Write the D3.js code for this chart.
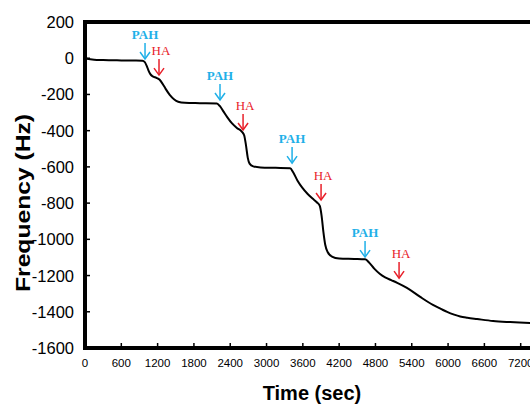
<!DOCTYPE html>
<html>
<head>
<meta charset="utf-8">
<script src="https://cdn.jsdelivr.net/npm/d3@7"></script>
<style>
  html, body { margin: 0; padding: 0; background: #fff; overflow: hidden; }
  svg { display: block; }
</style>
</head>
<body>
<svg id="chart" width="530" height="405"></svg>
<script>
// ---- data ----
const timeSec = [0,150,300,600,800,950,985,1020,1050,1080,1120,1180,1230,1280,1330,1400,1470,1540,1650,1900,2180,2230,2290,2350,2430,2510,2590,2630,2660,2690,2720,2780,2900,3150,3390,3440,3510,3590,3680,3760,3830,3880,3910,3940,3970,4010,4080,4200,4450,4630,4700,4780,4870,4960,5060,5160,5320,5540,5750,5880,5984,6100,6200,6320,6480,6744,7025,7356,7800];
const freqHz = [-2,-8,-10,-12,-13,-14,-20,-42,-68,-88,-100,-108,-118,-140,-168,-202,-226,-240,-246,-248,-250,-265,-295,-325,-360,-385,-405,-425,-480,-550,-582,-597,-603,-605,-607,-630,-675,-715,-750,-775,-795,-815,-870,-960,-1030,-1070,-1095,-1106,-1108,-1110,-1130,-1162,-1190,-1210,-1225,-1240,-1268,-1318,-1362,-1384,-1401,-1416,-1426,-1433,-1440,-1451,-1457,-1462,-1466];

const arrowLabels = ["PAH","HA","PAH","HA","PAH","HA","PAH","HA"];
const arrowTime   = [992,1223,2231,2612,3422,3901,4628,5190];
const arrowTipHz  = [-4,-93,-231,-396,-579,-783,-1098,-1214];

const xTicks = [0,600,1200,1800,2400,3000,3600,4200,4800,5400,6000,6600,7200];
const yTicks = [200,0,-200,-400,-600,-800,-1000,-1200,-1400,-1600];

// ---- layout ----
const svg = d3.select("#chart");
const x = d3.scaleLinear().domain([0, 7800]).range([85, 557]);
const y = d3.scaleLinear().domain([-1600, 200]).range([348, 22]);

const colors = { PAH: "#1fb0e8", HA: "#e8202a" };

// frame
svg.append("line").attr("x1", 85).attr("x2", 600).attr("y1", 22).attr("y2", 22)
  .attr("stroke", "#000").attr("stroke-width", 4);

// x axis ticks (inside)
const gx = svg.append("g");
gx.selectAll("line.tk").data(xTicks).join("line")
  .attr("x1", d => x(d)).attr("x2", d => x(d))
  .attr("y1", 348).attr("y2", 343)
  .attr("stroke", "#000").attr("stroke-width", 1.5);
gx.selectAll("text").data(xTicks).join("text")
  .attr("x", d => x(d)).attr("y", 367)
  .attr("text-anchor", "middle")
  .attr("font-family", "Liberation Sans, Arial, sans-serif")
  .attr("font-size", 11.5)
  .text(d => d);

// y axis ticks (inside)
const gy = svg.append("g");
gy.selectAll("line.tk").data(yTicks).join("line")
  .attr("x1", 85).attr("x2", 90)
  .attr("y1", d => y(d)).attr("y2", d => y(d))
  .attr("stroke", "#000").attr("stroke-width", 1.5);
gy.selectAll("text").data(yTicks).join("text")
  .attr("x", 74).attr("y", d => y(d) + 6)
  .attr("text-anchor", "end")
  .attr("font-family", "Liberation Sans, Arial, sans-serif")
  .attr("font-size", 16.5)
  .text(d => d);

// axis lines
svg.append("line").attr("x1", 85).attr("x2", 600).attr("y1", 348).attr("y2", 348)
  .attr("stroke", "#000").attr("stroke-width", 4);
svg.append("line").attr("x1", 85).attr("x2", 85).attr("y1", 20).attr("y2", 350)
  .attr("stroke", "#000").attr("stroke-width", 4);

// curve
const pts = timeSec.map((t, i) => [t, freqHz[i]]);
svg.append("path")
  .attr("d", d3.line().x(d => x(d[0])).y(d => y(d[1])).curve(d3.curveMonotoneX)(pts))
  .attr("fill", "none").attr("stroke", "#000").attr("stroke-width", 2);

// arrows
const ga = svg.append("g");
arrowLabels.forEach((lab, i) => {
  const ax = x(arrowTime[i]);
  const tip = y(arrowTipHz[i]);
  const top = tip - 16;
  const c = colors[lab];
  ga.append("line").attr("x1", ax).attr("x2", ax).attr("y1", top).attr("y2", tip)
    .attr("stroke", c).attr("stroke-width", 1.5);
  ga.append("path")
    .attr("d", `M${ax - 5},${tip - 7}L${ax},${tip}L${ax + 5},${tip - 7}`)
    .attr("fill", "none").attr("stroke", c).attr("stroke-width", 1.5);
  ga.append("text")
    .attr("x", lab === "HA" ? ax + 2 : ax).attr("y", top - 4)
    .attr("text-anchor", "middle")
    .attr("font-family", "Liberation Serif, Times New Roman, serif")
    .attr("font-weight", lab === "PAH" ? "bold" : "normal")
    .attr("font-size", 13)
    .attr("fill", c)
    .text(lab);
});

// axis titles
svg.append("text")
  .attr("x", 312).attr("y", 400)
  .attr("text-anchor", "middle")
  .attr("font-family", "Liberation Sans, Arial, sans-serif")
  .attr("font-weight", "bold")
  .attr("font-size", 20)
  .text("Time (sec)");

svg.append("text")
  .attr("transform", "translate(30,203) rotate(-90)")
  .attr("text-anchor", "middle")
  .attr("font-family", "Liberation Sans, Arial, sans-serif")
  .attr("font-weight", "bold")
  .attr("font-size", 21)
  .attr("textLength", 178)
  .attr("lengthAdjust", "spacingAndGlyphs")
  .text("Frequency (Hz)");
</script>
</body>
</html>
